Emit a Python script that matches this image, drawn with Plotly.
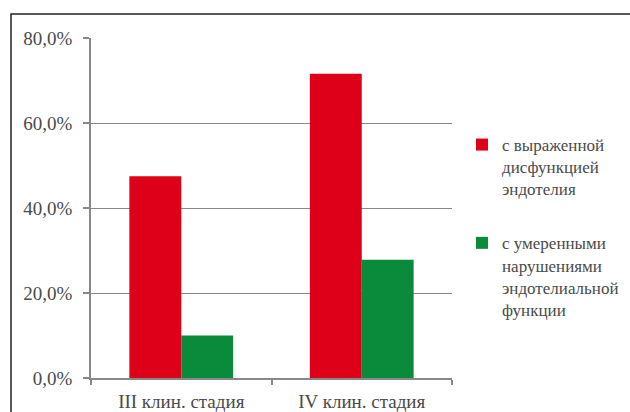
import plotly.graph_objects as go

# Share of patients by clinical stage and degree of endothelial dysfunction
stages = ["III клин. стадия", "IV клин. стадия"]
severe = [47.5, 71.6]      # с выраженной дисфункцией эндотелия, %
moderate = [10.0, 27.8]    # с умеренными нарушениями эндотелиальной функции, %
y_ticks = [0, 20, 40, 60, 80]
y_tick_labels = ["0,0%", "20,0%", "40,0%", "60,0%", "80,0%"]

RED = "#DD0018"
GREEN = "#0A8B3C"
TEXT = "#4a4a4a"
FONT = "Liberation Serif"

fig = go.Figure()
fig.add_trace(go.Bar(
    x=stages, y=severe, name="с выраженной<br>дисфункцией<br>эндотелия",
    marker=dict(color=RED, line=dict(width=0)), legendgroup="a",
))
fig.add_trace(go.Bar(
    x=stages, y=moderate, name="с умеренными<br>нарушениями<br>эндотелиальной<br>функции",
    marker=dict(color=GREEN, line=dict(width=0)), legendgroup="b",
))

W, H = 630, 412
L, R, T, B = 91, 178, 38, 34
pw, ph = W - L - R, H - T - B

def px_x(x):
    return (x - L) / pw

def px_y(y):
    return (H - B - y) / ph

# outer frame around the chart
fig.add_shape(type="rect", xref="paper", yref="paper",
              x0=px_x(11), x1=px_x(660), y0=px_y(440), y1=px_y(14),
              line=dict(color="#222222", width=1.5), layer="below")

fig.update_layout(
    width=W, height=H,
    margin=dict(l=L, r=R, t=T, b=B, pad=0, autoexpand=False),
    paper_bgcolor="white", plot_bgcolor="white",
    font=dict(family=FONT, size=17, color=TEXT),
    barmode="group", bargap=0.425, bargroupgap=0,
    showlegend=True,
    legend=dict(
        x=px_x(462), y=px_y(127), xanchor="left", yanchor="top",
        valign="top", traceorder="grouped", tracegroupgap=29,
        font=dict(family=FONT, size=17, color=TEXT),
        itemwidth=30, bgcolor="rgba(0,0,0,0)",
    ),
    xaxis=dict(
        automargin=False,
        showline=True, linecolor="#888888", linewidth=1.5,
        ticks="outside", tickson="boundaries", ticklen=5, tickcolor="#888888",
        tickwidth=1.5, showgrid=False, ticklabelstandoff=5,
        tickfont=dict(family=FONT, size=19, color=TEXT),
    ),
    yaxis=dict(
        automargin=False,
        range=[0, 80], tickvals=y_ticks, ticktext=y_tick_labels,
        showline=True, linecolor="#888888", linewidth=1.5,
        ticks="outside", ticklen=6, tickcolor="#888888", tickwidth=1.5,
        showgrid=True, gridcolor="#888888", gridwidth=1.2,
        ticklabelstandoff=7, zeroline=False,
        tickfont=dict(family=FONT, size=19, color=TEXT),
    ),
)

fig.write_html("out.html")
